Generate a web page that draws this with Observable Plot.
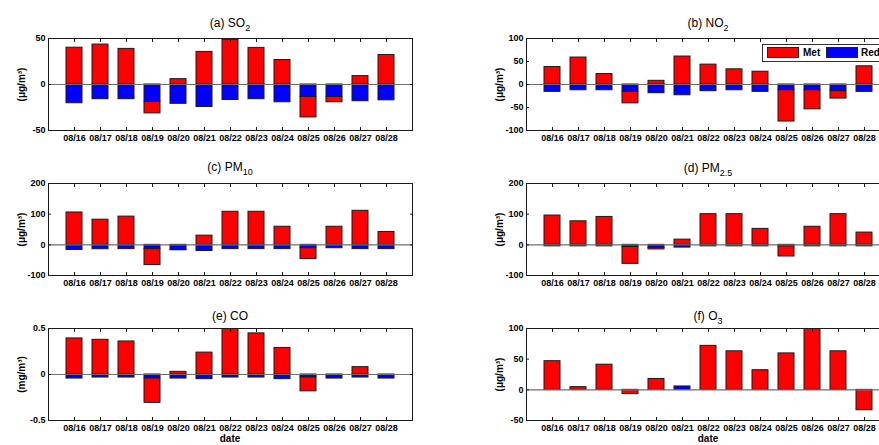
<!DOCTYPE html>
<html>
<head>
<meta charset="utf-8">
<script src="https://cdn.jsdelivr.net/npm/d3@7"></script>
<script src="https://cdn.jsdelivr.net/npm/@observablehq/plot@0.6"></script>
<style>
  body { margin: 0; background: #fff; }
  #wrap { position: relative; width: 879px; height: 445px; overflow: hidden; background: #fff; font-family: "Liberation Sans", Arial, sans-serif; }
  .panel { position: absolute; }
  .title { position: absolute; width: 364px; text-align: center; font-size: 12px; line-height: 12px; color: #000; white-space: nowrap; }
  .title sub { font-size: 9px; vertical-align: -4px; line-height: 0; }
  .xlab { position: absolute; width: 364px; text-align: center; font-size: 10px; font-weight: bold; line-height: 10px; }
  #legend { position: absolute; left: 762px; top: 44px; width: 140px; height: 16px; border: 1px solid #333; background: #fff; font-size: 10px; font-weight: bold; }
  #legend .sw { position: absolute; top: 2px; height: 9px; border: 1px solid #222; }
  #legend .lt { position: absolute; top: 2px; line-height: 11px; }
</style>
</head>
<body>
<div id="wrap"></div>
<script>
const dates = ["08/16","08/17","08/18","08/19","08/20","08/21","08/22","08/23","08/24","08/25","08/26","08/27","08/28"];
const seriesNames = ["Met", "Red"];

const so2Met = [40, 43.4, 38.7, -12.4, 5.8, 35.4, 48.5, 39.8, 26.6, -22.3, -5.8, 9.1, 32.1];
const so2Red = [-20.4, -16, -16, -19, -21, -24.5, -16.8, -16, -19.3, -13.5, -13.5, -18.2, -17.2];

const no2Met = [38, 58.6, 22.7, -25, 8, 60.8, 43.2, 33, 27.8, -68, -41.5, -16, 39.6];
const no2Red = [-16, -12.5, -12.5, -16, -19, -23.4, -14.6, -12.5, -16, -12.5, -12.5, -14.6, -16];

const pm10Met = [105.5, 82, 92, -52, -1, 30, 107.8, 107.8, 59, -35.6, 59, 111, 42];
const pm10Red = [-16.7, -14.4, -14, -14, -16.7, -20, -14, -14, -14, -11, -11, -14, -14];

const pm25Met = [95.5, 76.7, 91, -55, -5, 17, 100, 100, 52, -33, 59, 100, 40];
const pm25Red = [-5, -5, -5, -7, -10, -9, -5, -5, -5, -5, -5, -5, -5];

const coMet = [0.392, 0.377, 0.359, -0.264, 0.029, 0.238, 0.495, 0.447, 0.289, -0.15, 0, 0.08, 0];
const coRed = [-0.044, -0.033, -0.033, -0.044, -0.044, -0.051, -0.033, -0.033, -0.051, -0.033, -0.044, -0.033, -0.044];

const o3Met = [46.7, 4.4, 41, -7, 17.8, 0, 71.7, 62.8, 32, 59.4, 100, 62.8, -33.3];
const o3Red = [0, 0, 0, 0, 0, 5.5, 0, 0, 0, 0, 0, 0, 0];

const panels = [
  {id: "a", title: '(a) SO<sub>2</sub>', met: so2Met, red: so2Red, domain: [-50, 50], ticks: [-50, 0, 50], unit: "(μg/m³)", left: 0, top: 0, titleTop: 16.5},
  {id: "b", title: '(b) NO<sub>2</sub>', met: no2Met, red: no2Red, domain: [-100, 100], ticks: [-100, -50, 0, 50, 100], unit: "(μg/m³)", left: 478, top: 0, titleTop: 16.5},
  {id: "c", title: '(c) PM<sub>10</sub>', met: pm10Met, red: pm10Red, domain: [-100, 200], ticks: [-100, 0, 100, 200], unit: "(μg/m³)", left: 0, top: 145, titleTop: 161.3},
  {id: "d", title: '(d) PM<sub>2.5</sub>', met: pm25Met, red: pm25Red, domain: [-100, 200], ticks: [-100, 0, 100, 200], unit: "(μg/m³)", left: 478, top: 145, titleTop: 161.5},
  {id: "e", title: '(e) CO', met: coMet, red: coRed, domain: [-0.5, 0.5], ticks: [-0.5, 0, 0.5], unit: "(mg/m³)", left: 0, top: 290, titleTop: 309.8},
  {id: "f", title: '(f) O<sub>3</sub>', met: o3Met, red: o3Red, domain: [-50, 100], ticks: [-50, 0, 50, 100], unit: "(μg/m³)", left: 478, top: 290, titleTop: 309.8}
];

const wrap = document.getElementById("wrap");

for (const p of panels) {
  // Red first so it stacks next to zero for negatives, Met after
  const rows = [];
  dates.forEach((d, i) => {
    rows.push({date: d, series: "Red", value: p.red[i]});
    rows.push({date: d, series: "Met", value: p.met[i]});
  });
  const fmt = v => String(v);
  const chart = Plot.plot({
    width: 440,
    height: 145,
    marginTop: 38,
    marginBottom: 15,
    marginLeft: 48,
    marginRight: 28,
    x: {type: "band", domain: dates, paddingInner: 0.38, paddingOuter: 0.69, align: 0.5, label: null},
    y: {domain: p.domain, label: null},
    color: {domain: seriesNames, range: ["#ff0000", "#0000ff"]},
    style: {fontFamily: "'Liberation Sans', Arial, sans-serif", fontWeight: "bold", fontSize: "9px", color: "#000", background: "transparent", overflow: "visible"},
    marks: [
      Plot.barY(rows, {x: "date", y: "value", fill: "series", stroke: "#1a1a1a", strokeWidth: 1, clip: true}),
      Plot.ruleY([0], {stroke: "#6e6e6e", strokeWidth: 1.2}),
      Plot.frame({stroke: "#1a1a1a", strokeWidth: 1}),
      Plot.axisY({anchor: "left", ticks: p.ticks, tickSize: 0, tickPadding: 3, tickFormat: fmt, label: null}),
      Plot.axisY({anchor: "left", ticks: p.ticks, tickSize: -3, tickFormat: () => "", label: null, stroke: "#1a1a1a"}),
      Plot.axisY({anchor: "right", ticks: p.ticks, tickSize: -3, tickFormat: () => "", label: null, stroke: "#1a1a1a"}),
      Plot.axisX({anchor: "bottom", tickSize: 0, tickPadding: 4, label: null}),
      Plot.axisX({anchor: "bottom", tickSize: -3, tickFormat: () => "", label: null, stroke: "#1a1a1a"}),
      Plot.axisX({anchor: "top", tickSize: -3, tickFormat: () => "", label: null, stroke: "#1a1a1a"}),
      Plot.text([p.unit], {frameAnchor: "left", rotate: -90, dx: -27, text: d => d, fontSize: 10, fontWeight: "bold", textAnchor: "middle"})
    ]
  });
  chart.classList.add("panel");
  chart.style.left = p.left + "px";
  chart.style.top = p.top + "px";
  wrap.appendChild(chart);

  const t = document.createElement("div");
  t.className = "title";
  t.innerHTML = p.title;
  t.style.left = (p.left + 48) + "px";
  t.style.top = p.titleTop + "px";
  wrap.appendChild(t);
}

// x-axis titles for bottom row
for (const left of [0, 478]) {
  const xl = document.createElement("div");
  xl.className = "xlab";
  xl.textContent = "date";
  xl.style.left = (left + 48) + "px";
  xl.style.top = "434px";
  wrap.appendChild(xl);
}

// legend (panel b)
const legend = document.createElement("div");
legend.id = "legend";
const legendItems = [
  {name: seriesNames[0], color: "#ff0000", sw: 4, tx: 40},
  {name: seriesNames[1], color: "#0000ff", sw: 63, tx: 98}
];
for (const it of legendItems) {
  const s = document.createElement("div");
  s.className = "sw";
  s.style.left = it.sw + "px";
  s.style.width = "30px";
  s.style.background = it.color;
  legend.appendChild(s);
  const l = document.createElement("div");
  l.className = "lt";
  l.style.left = it.tx + "px";
  l.textContent = it.name;
  legend.appendChild(l);
}
wrap.appendChild(legend);
</script>
</body>
</html>
